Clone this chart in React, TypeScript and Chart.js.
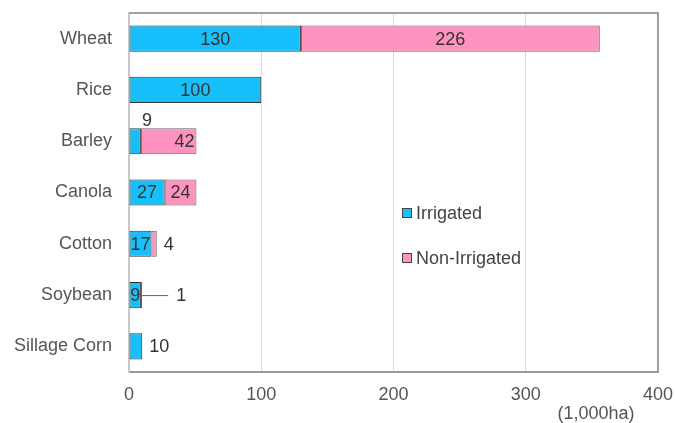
import React, { useEffect, useRef } from "react";
import { Chart, registerables } from "chart.js";
Chart.register(...registerables);

const categories = ["Wheat", "Rice", "Barley", "Canola", "Cotton", "Soybean", "Sillage Corn"];
const irrigated = [130, 100, 9, 27, 17, 9, 10];
const nonIrrigated = [226, 0, 42, 24, 4, 1, 0];
const seriesNames = ["Irrigated", "Non-Irrigated"];
const xTicks = [0, 100, 200, 300, 400];
const unitLabel = "(1,000ha)";

const BLUE = "#17c0fb";
const PINK = "#fd93bf";
const FONT = "'Liberation Sans', Arial, sans-serif";

const labelPlugin = {
  id: "customLabels",
  afterDatasetsDraw(chart: any) {
    const ctx = chart.ctx;
    const area = chart.chartArea;
    ctx.save();
    // frame
    ctx.strokeStyle = "#a0a0a0";
    ctx.lineWidth = 2;
    ctx.beginPath();
    ctx.moveTo(area.left, area.top);
    ctx.lineTo(area.right, area.top);
    ctx.lineTo(area.right, area.bottom);
    ctx.stroke();

    ctx.font = `18px ${FONT}`;
    ctx.fillStyle = "#333";
    ctx.textBaseline = "middle";
    const n = chart.data.labels.length;
    for (let i = 0; i < n; i++) {
      const segs: any[] = [];
      chart.data.datasets.forEach((ds: any, di: number) => {
        const v = ds.data[i];
        if (!v) return;
        const el = chart.getDatasetMeta(di).data[i];
        const left = Math.min(el.x, el.base);
        const right = Math.max(el.x, el.base);
        const txt = String(v);
        const tw = ctx.measureText(txt).width;
        segs.push({ v, el, di, left, right, txt, tw, fits: tw <= right - left + 1 });
      });
      let prevAbove = false;
      segs.forEach((s, si) => {
        const y = s.el.y + 1;
        const w = s.right - s.left;
        const isLast = si === segs.length - 1;
        const laterFits = segs.slice(si + 1).some((o) => o.fits);
        if (w < 15 && laterFits) {
          ctx.textAlign = "center";
          ctx.fillText(s.txt, s.right + 6, s.el.y - s.el.height / 2 - 7);
          prevAbove = true;
        } else if (s.fits) {
          if (prevAbove) {
            ctx.textAlign = "right";
            ctx.fillText(s.txt, s.right - 2, y);
          } else {
            ctx.textAlign = "center";
            ctx.fillText(s.txt, (s.left + s.right) / 2, y);
          }
          prevAbove = false;
        } else if (isLast && w < 3) {
          ctx.strokeStyle = "#666";
          ctx.lineWidth = 1;
          ctx.beginPath();
          ctx.moveTo(s.right, s.el.y + 0.5);
          ctx.lineTo(s.right + 26, s.el.y + 0.5);
          ctx.stroke();
          ctx.textAlign = "left";
          ctx.fillText(s.txt, s.right + 34, y);
        } else {
          ctx.textAlign = "left";
          ctx.fillText(s.txt, s.right + 7, y);
        }
      });
    }

    // legend
    const lx = area.left + 273;
    const ly = [area.top + 200, area.top + 245];
    const cols = [BLUE, PINK];
    ctx.textAlign = "left";
    for (let k = 0; k < 2; k++) {
      ctx.fillStyle = cols[k];
      ctx.fillRect(lx, ly[k] - 5, 10, 10);
      ctx.strokeStyle = "#444";
      ctx.lineWidth = 1;
      ctx.strokeRect(lx + 0.5, ly[k] - 4.5, 9, 9);
      ctx.fillStyle = "#444";
      ctx.fillText(seriesNames[k], lx + 14, ly[k] + 1);
    }

    // unit label
    ctx.fillStyle = "#555";
    ctx.textAlign = "center";
    ctx.fillText(unitLabel, area.right - 62, area.bottom + 42);
    ctx.restore();
  },
};

export default function App() {
  const ref = useRef<HTMLCanvasElement | null>(null);
  useEffect(() => {
    const chart = new Chart(ref.current as HTMLCanvasElement, {
      type: "bar",
      data: {
        labels: categories,
        datasets: [
          { label: seriesNames[0], data: irrigated, backgroundColor: BLUE, borderColor: "#333", borderWidth: 1, borderSkipped: false },
          { label: seriesNames[1], data: nonIrrigated, backgroundColor: PINK, borderColor: "#666", borderWidth: 1, borderSkipped: false },
        ],
      },
      options: {
        indexAxis: "y",
        animation: false,
        responsive: false,
        maintainAspectRatio: false,
        datasets: { bar: { barPercentage: 0.51, categoryPercentage: 1 } },
        layout: { padding: { top: 13, right: 17, left: 0, bottom: 0 } },
        plugins: { legend: { display: false }, tooltip: { enabled: false } },
        scales: {
          x: {
            stacked: true,
            min: 0,
            max: 400,
            afterBuildTicks: (s: any) => { s.ticks = xTicks.map((v) => ({ value: v })); },
            afterFit: (s: any) => { s.height = 51; s.paddingLeft = 0; s.paddingRight = 0; },
            ticks: { color: "#555", font: { size: 18, family: FONT }, padding: 12 },
            grid: { color: "#d9d9d9", lineWidth: 1, drawTicks: false },
            border: { display: true, color: "#999", width: 2 },
          },
          y: {
            stacked: true,
            afterFit: (s: any) => { s.width = 129; s.paddingTop = 0; s.paddingBottom = 0; },
            ticks: { color: "#555", font: { size: 18, family: FONT }, padding: 17 },
            grid: { display: false, drawTicks: false },
            border: { display: true, color: "#c8c8c8", width: 2 },
          },
        },
      },
      plugins: [labelPlugin],
    } as any);
    return () => chart.destroy();
  }, []);
  return (
    <div style={{ position: "absolute", left: 0, top: 0, width: 675, height: 423, background: "#fff" }}>
      <canvas ref={ref} width={675} height={423} style={{ width: 675, height: 423 }} />
    </div>
  );
}
